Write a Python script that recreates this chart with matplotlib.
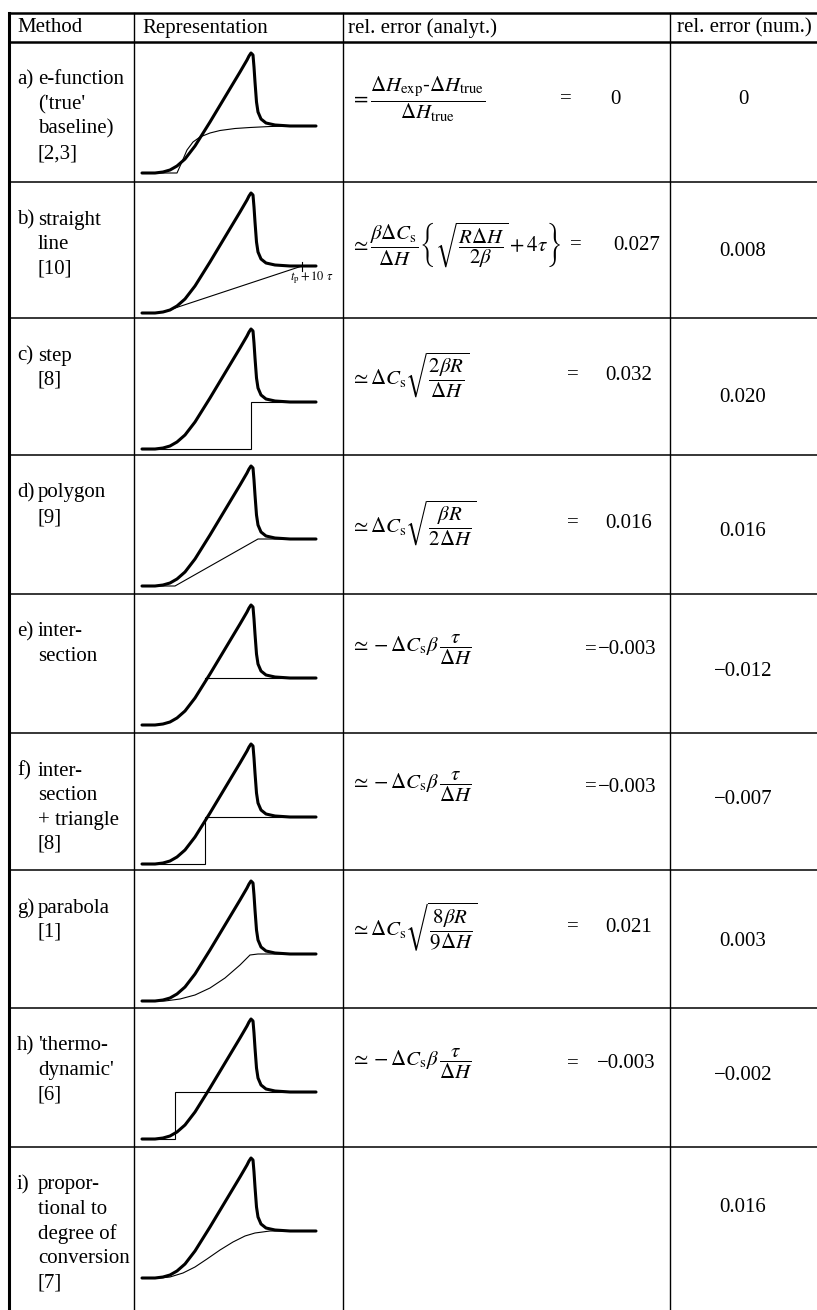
import matplotlib.pyplot as plt

plt.rcParams['font.family'] = ['Liberation Serif', 'DejaVu Serif']
plt.rcParams['mathtext.fontset'] = 'stix'

# ---- table content -------------------------------------------------------
headers = ['Method', 'Representation', 'rel. error (analyt.)', 'rel. error (num.)']

method_tags = ['a)', 'b)', 'c)', 'd)', 'e)', 'f)', 'g)', 'h)', 'i)']
method_lines = [
    ['e-function', "('true'", 'baseline)', '[2,3]'],
    ['straight', 'line', '[10]'],
    ['step', '[8]'],
    ['polygon', '[9]'],
    ['inter-', 'section'],
    ['inter-', 'section', '+ triangle', '[8]'],
    ['parabola', '[1]'],
    ["'thermo-", "dynamic'", '[6]'],
    ['propor-', 'tional to', 'degree of', 'conversion', '[7]'],
]

analyt_formulas = [
    r'$=\dfrac{\Delta H_{\rm exp}\text{-}\Delta H_{\rm true}}{\Delta H_{\rm true}}$',
    r'$\simeq\dfrac{\beta\Delta C_{\rm s}}{\Delta H}\left\{\sqrt{\dfrac{R\Delta H}{2\beta}}+4\tau\right\}$',
    r'$\simeq\Delta C_{\rm s}\sqrt{\dfrac{2\beta R}{\Delta H}}$',
    r'$\simeq\Delta C_{\rm s}\sqrt{\dfrac{\beta R}{2\Delta H}}$',
    r'$\simeq-\Delta C_{\rm s}\beta\,\dfrac{\tau}{\Delta H}$',
    r'$\simeq-\Delta C_{\rm s}\beta\,\dfrac{\tau}{\Delta H}$',
    r'$\simeq\Delta C_{\rm s}\sqrt{\dfrac{8\beta R}{9\Delta H}}$',
    r'$\simeq-\Delta C_{\rm s}\beta\,\dfrac{\tau}{\Delta H}$',
    None,
]
analyt_values = ['0', '0.027', '0.032', '0.016', '\u22120.003', '\u22120.003',
                 '0.021', '\u22120.003', None]
num_values = ['0', '0.008', '0.020', '0.016', '\u22120.012', '\u22120.007',
              '0.003', '\u22120.002', '0.016']

# measured DSC peak (thick curve): x in px, y as offset below row top
peak_x = [142, 155, 163, 170, 177, 185, 195, 210, 225, 240, 247, 249, 251, 253,
          254, 255, 256.5, 258, 261, 266, 275, 290, 316]
peak_y = [131, 131, 130, 128, 124, 117, 104, 80, 55, 30, 18, 14, 11, 13,
          25, 40, 60, 70, 77, 81, 83, 84, 84]

# baselines of each method (thin curves), same coordinate system
base_x = [
    [142, 177, 181, 187, 193, 200, 210, 220, 235, 250, 270, 290],
    [163, 302],
    [142, 251, 251, 316],
    [142, 175, 258, 316],
    [205, 316],
    [142, 205, 205, 316],
    [142, 165, 180, 195, 210, 225, 240, 250, 258, 316],
    [142, 175, 175, 316],
    [142, 160, 170, 183, 195, 207, 220, 233, 245, 255, 270, 316],
]
base_y = [
    [131, 131, 122, 108, 100, 95, 91, 88.5, 86.5, 85.5, 84.5, 84],
    [130, 84],
    [131, 131, 84, 84],
    [131, 131, 84, 84],
    [84, 84],
    [131, 131, 84, 84],
    [131, 131, 129, 125, 118, 108, 95, 85, 84, 84],
    [131, 131, 84, 84],
    [131, 131, 130, 126, 120, 112, 103, 95, 89, 86, 84, 84],
]

# ---- layout (pixels) -----------------------------------------------------
W, H = 817, 1310
row_edges = [42, 182, 318, 455, 594, 733, 870, 1008, 1147, 1310]
col_edges = [9, 134, 343, 670]
analyt_dy = [57, 63, 57, 68, 56, 54, 57, 56]
eq_x = [560, 570, 567, 567, 585, 585, 567, 567]
val_x = [610, 613, 605, 605, 598, 598, 605, 597]
num_dy = [58, 70, 80, 76, 78, 67, 71, 68, 61]
FS = 15

fig = plt.figure(figsize=(W / 100, H / 100), dpi=100)
ax = fig.add_axes([0, 0, 1, 1])
ax.set_xlim(0, W)
ax.set_ylim(H, 0)
ax.axis('off')

# grid lines
ax.plot([col_edges[0], W], [13, 13], color='black', lw=1.8)
ax.plot([col_edges[0], W], [42, 42], color='black', lw=1.8)
for y in row_edges[1:-1]:
    ax.plot([col_edges[0], W], [y, y], color='black', lw=1.1)
ax.plot([col_edges[0], col_edges[0]], [13, H], color='black', lw=2.2)
for x in col_edges[1:]:
    ax.plot([x, x], [13, H], color='black', lw=1.0)

# header
for x, txt in zip([17, 142, 348, 677], headers):
    ax.text(x, 28, txt, fontsize=FS, va='center', ha='left')

for i, top in enumerate(row_edges[:-1]):
    # method description
    ax.text(17, top + 38, method_tags[i], fontsize=FS, va='center', ha='left')
    for j, line in enumerate(method_lines[i]):
        ax.text(38, top + 38 + j * 24.5, line, fontsize=FS, va='center', ha='left')

    # sketch
    ax.plot(base_x[i], [top + v for v in base_y[i]], color='black', lw=0.8,
            solid_joinstyle='miter')
    ax.plot(peak_x, [top + v for v in peak_y], color='black', lw=2.2,
            solid_capstyle='round', solid_joinstyle='round')

    # analytical error
    if analyt_formulas[i] is not None:
        y = top + analyt_dy[i]
        ax.text(350, y, analyt_formulas[i], fontsize=FS, va='center', ha='left')
        ax.text(eq_x[i], y, '=', fontsize=FS, va='center', ha='left')
        ax.text(val_x[i], y, analyt_values[i], fontsize=FS, va='center', ha='left')

    # numerical error
    ax.text(743, top + num_dy[i], num_values[i], fontsize=FS, va='center',
            ha='center')

# label of the straight-line end point
top_b = row_edges[1]
ax.plot([302, 302], [top_b + 80, top_b + 89], color='black', lw=0.8)
ax.text(290, top_b + 96, r'$t_{\rm p}+10\ \tau$', fontsize=9, va='center',
        ha='left')

fig.savefig('out.png', dpi=100)
